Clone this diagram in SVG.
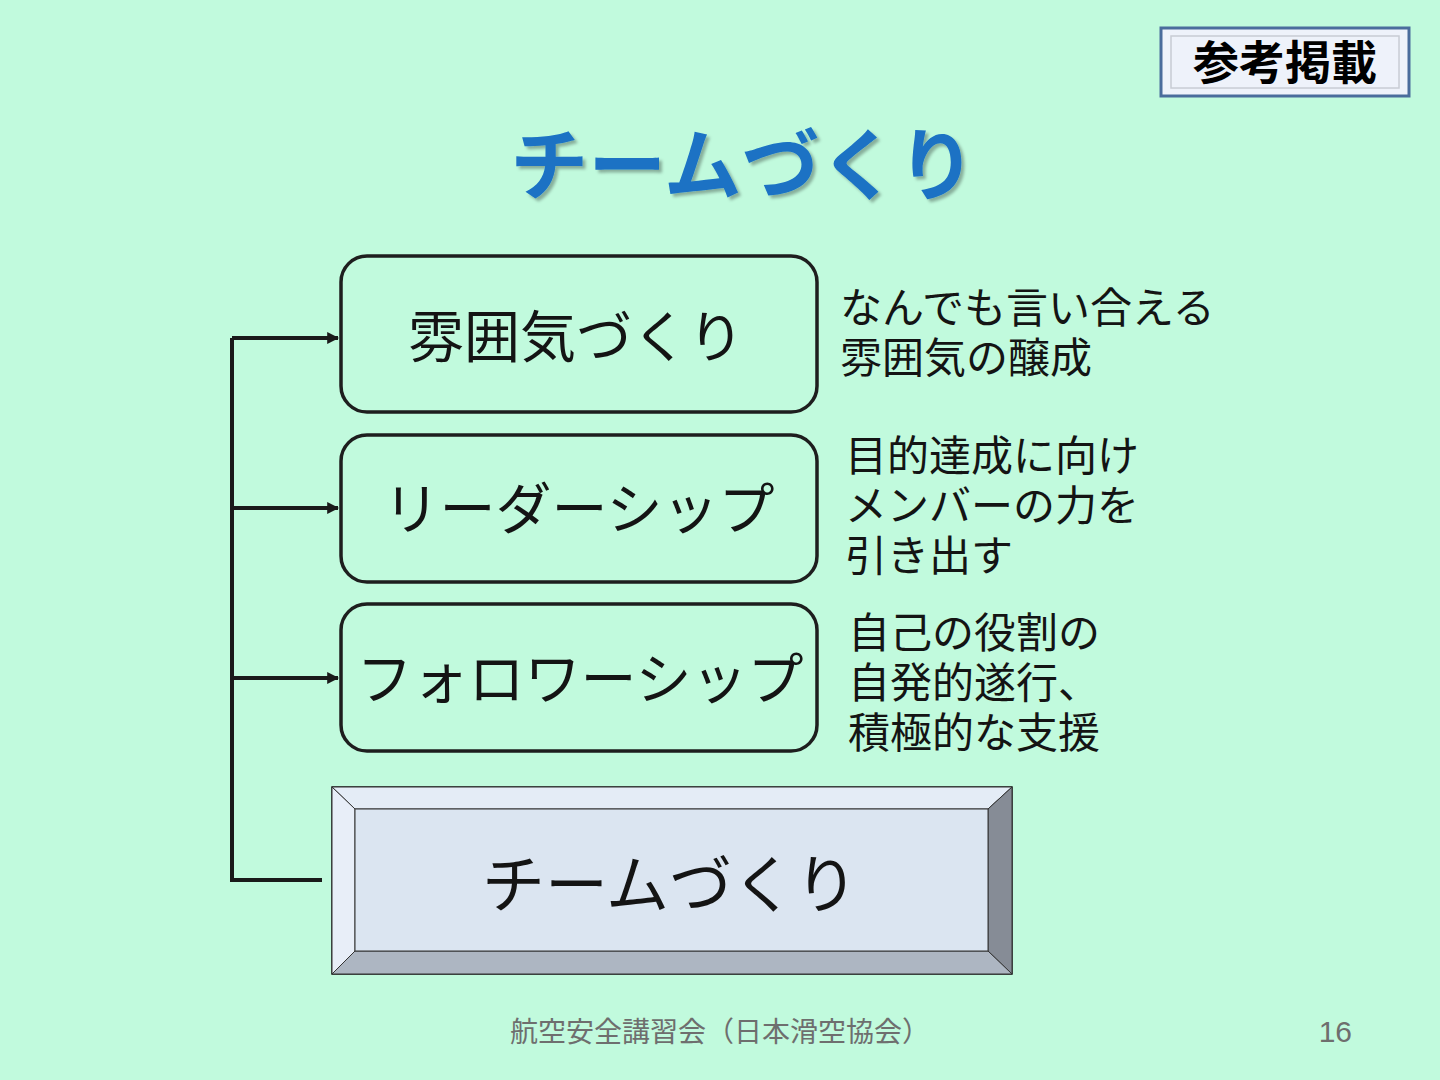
<svg xmlns="http://www.w3.org/2000/svg" width="1440" height="1080" viewBox="0 0 1440 1080">
<defs>
<style>
.jp{font-family:"Noto Sans CJK JP","Noto Sans CJK SC",sans-serif;}
.nt{font-family:"Liberation Sans","Noto Sans CJK JP",sans-serif;}
.box{fill:none;stroke:#1e1e1e;stroke-width:3.5;}
.lbl{font-size:56px;fill:#141414;text-anchor:middle;}
.note{font-size:42px;fill:#141414;}
.con{fill:none;stroke:#1a1a1a;stroke-width:4;}
</style>
<marker id="ah" viewBox="0 0 10 10" refX="9" refY="5" markerWidth="3" markerHeight="3" orient="auto" markerUnits="strokeWidth">
<path d="M0,0 L10,5 L0,10 z" fill="#1a1a1a"/>
</marker>
<filter id="sh" x="-5%" y="-10%" width="110%" height="130%">
<feDropShadow dx="3" dy="3" stdDeviation="1.5" flood-color="#000" flood-opacity="0.3"/>
</filter>
</defs>
<rect width="1440" height="1080" fill="#c1fadd"/>

<g id="badge">
<rect x="1161" y="28" width="248" height="68" fill="#eef2fa" stroke="#4a6c9c" stroke-width="3"/>
<rect x="1171" y="36" width="228" height="52" fill="#eef2fa" stroke="#c8ccd4" stroke-width="1.5"/>
<text class="jp" x="1285" y="79" font-size="46" font-weight="bold" text-anchor="middle" fill="#000">参考掲載</text>
</g>

<g id="title">
<text class="jp" x="743" y="194" font-size="78" font-weight="bold" text-anchor="middle" fill="#1a72c4" filter="url(#sh)">チームづくり</text>
</g>

<g id="connectors">
<path class="con" d="M232,338 V880 H322"/>
<path class="con" d="M232,338 H338" marker-end="url(#ah)"/>
<path class="con" d="M232,508 H338" marker-end="url(#ah)"/>
<path class="con" d="M232,678 H338" marker-end="url(#ah)"/>
</g>

<g id="node1">
<rect class="box" x="341" y="256" width="476" height="156" rx="26"/>
<text class="jp lbl" x="576" y="357">雰囲気づくり</text>
</g>
<g id="node2">
<rect class="box" x="341" y="435" width="476" height="147" rx="26"/>
<text class="jp lbl" x="579" y="529">リーダーシップ</text>
</g>
<g id="node3">
<rect class="box" x="341" y="604" width="476" height="147" rx="26"/>
<text class="jp lbl" x="580" y="699">フォロワーシップ</text>
</g>

<g id="node4">
<rect x="332" y="787" width="680" height="187" fill="#dbe5f1" stroke="#1a1a1a" stroke-width="1.5"/>
<polygon points="332,787 1012,787 988,809 355,809" fill="#e4ecf6" stroke="#333" stroke-width="1"/>
<polygon points="332,787 355,809 355,951 332,974" fill="#e8eef8" stroke="#333" stroke-width="1"/>
<polygon points="1012,787 1012,974 988,951 988,809" fill="#868c96" stroke="#333" stroke-width="1"/>
<polygon points="332,974 355,951 988,951 1012,974" fill="#adb6c2" stroke="#333" stroke-width="1"/>
<rect x="355" y="809" width="633" height="142" fill="#dbe5f1" stroke="#333" stroke-width="1"/>
<text class="jp" x="670" y="907" font-size="63" text-anchor="middle" fill="#141414">チームづくり</text>
</g>

<g id="note1">
<text class="nt note" x="840" y="323">なんでも言い合える</text>
<text class="nt note" x="840" y="373">雰囲気の醸成</text>
</g>
<g id="note2">
<text class="nt note" x="845" y="471">目的達成に向け</text>
<text class="nt note" x="845" y="521">メンバーの力を</text>
<text class="nt note" x="845" y="571">引き出す</text>
</g>
<g id="note3">
<text class="nt note" x="848" y="648">自己の役割の</text>
<text class="nt note" x="848" y="698">自発的遂行、</text>
<text class="nt note" x="848" y="748">積極的な支援</text>
</g>

<g id="footer">
<text class="jp" x="510" y="1042" font-size="28" fill="#6e6e6e">航空安全講習会（日本滑空協会）</text>
<text x="1352" y="1042" font-size="30" text-anchor="end" fill="#6e6e6e" font-family="Liberation Sans, sans-serif">16</text>
</g>
</svg>
